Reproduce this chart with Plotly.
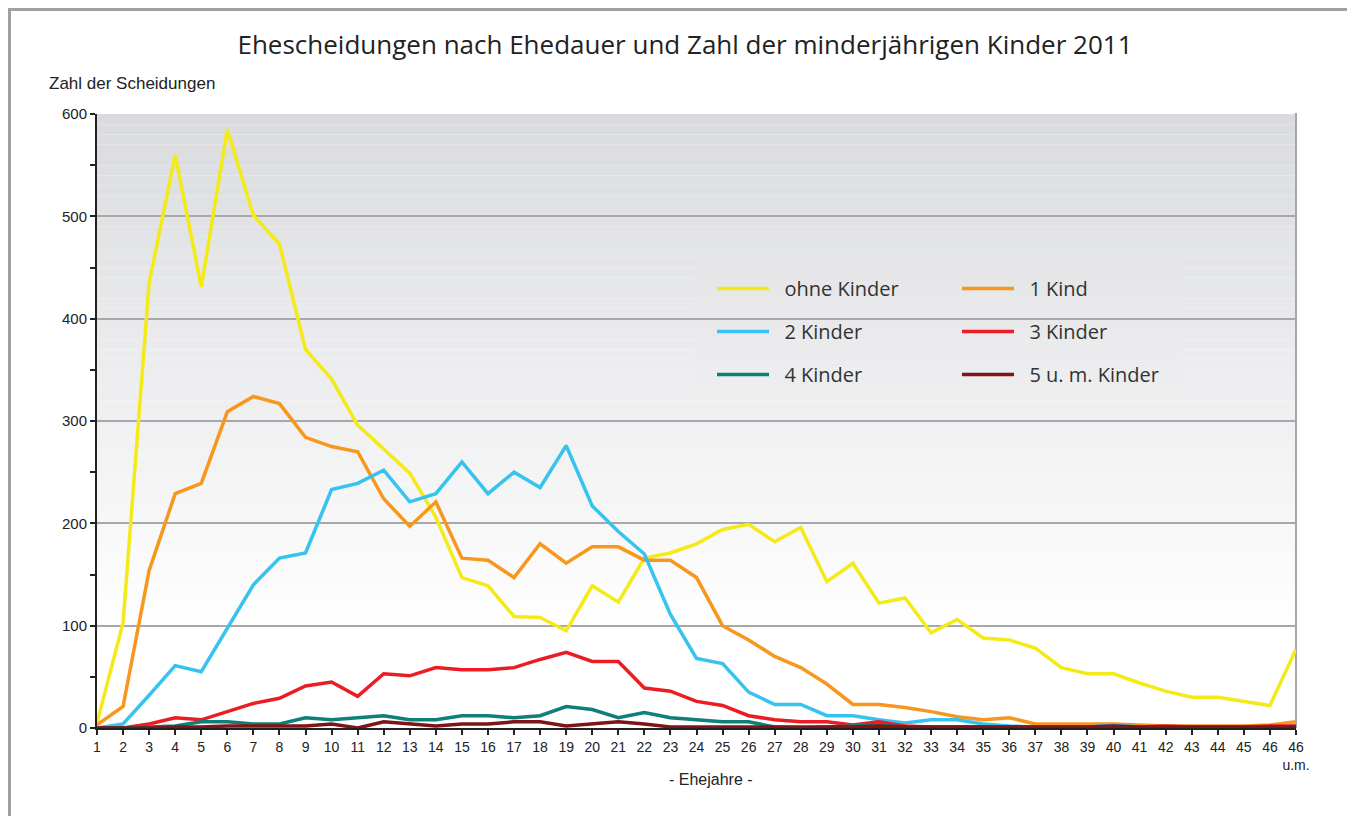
import plotly.graph_objects as go

tick_labels = ["1", "2", "3", "4", "5", "6", "7", "8", "9", "10", "11", "12", "13", "14", "15",
               "16", "17", "18", "19", "20", "21", "22", "23", "24", "25", "26", "27", "28", "29",
               "30", "31", "32", "33", "34", "35", "36", "37", "38", "39", "40", "41", "42", "43",
               "44", "45", "46", "46<br>u.m."]
x_pos = list(range(1, len(tick_labels) + 1))

ohne_kinder = [5, 103, 435, 560, 431, 585, 501, 473, 370, 341, 296, 273, 249, 206, 147, 139, 109, 108,
               95, 139, 123, 166, 171, 180, 194, 199, 182, 196, 143, 161, 122, 127, 93, 106, 88, 86,
               78, 59, 53, 53, 44, 36, 30, 30, 26, 22, 77]
kind_1 = [3, 21, 154, 229, 239, 309, 324, 317, 284, 275, 270, 224, 197, 221, 166, 164, 147, 180,
          161, 177, 177, 164, 164, 147, 100, 86, 70, 59, 43, 23, 23, 20, 16, 11, 8, 10,
          4, 4, 4, 4, 3, 2, 2, 2, 2, 3, 6]
kinder_2 = [0, 4, 32, 61, 55, 97, 140, 166, 171, 233, 239, 252, 221, 229, 260, 229, 250, 235,
            276, 217, 192, 170, 111, 68, 63, 35, 23, 23, 12, 12, 8, 5, 8, 8, 4, 2,
            1, 1, 1, 3, 1, 1, 1, 0, 0, 0, 2]
kinder_3 = [0, 0, 4, 10, 8, 16, 24, 29, 41, 45, 31, 53, 51, 59, 57, 57, 59, 67, 74, 65, 65, 39, 36, 26,
            22, 12, 8, 6, 6, 3, 6, 2, 1, 1, 1, 1, 1, 1, 1, 1, 1, 2, 1, 1, 1, 2, 2]
kinder_4 = [0, 0, 1, 2, 6, 6, 4, 4, 10, 8, 10, 12, 8, 8, 12, 12, 10, 12, 21, 18, 10, 15, 10, 8,
            6, 6, 1, 0, 1, 2, 3, 1, 1, 1, 1, 0, 0, 0, 0, 1, 0, 0, 0, 0, 0, 0, 0]
kinder_5 = [0, 0, 0, 1, 1, 2, 2, 2, 2, 4, 0, 6, 4, 2, 4, 4, 6, 6, 2, 4, 6, 4, 1, 1,
            1, 1, 1, 1, 1, 1, 2, 1, 1, 1, 1, 1, 1, 1, 1, 2, 1, 1, 1, 1, 1, 1, 1]

series = [
    ("ohne Kinder", ohne_kinder, "#f4ea17", "legend"),
    ("1 Kind", kind_1, "#f7971e", "legend2"),
    ("2 Kinder", kinder_2, "#36c3ef", "legend"),
    ("3 Kinder", kinder_3, "#ec1c24", "legend2"),
    ("4 Kinder", kinder_4, "#0e7f79", "legend"),
    ("5 u. m. Kinder", kinder_5, "#7e1416", "legend2"),
]

# page body has an 8px margin, so all reference pixel positions are shifted by OFF
OFF = 8
W, H = 1355 - OFF, 816 - OFF
PX_L, PX_R, PX_T, PX_B = 97, 1296, 114, 728          # plot area in reference pixels
L, T = PX_L - OFF, PX_T - OFF
R, B = W - (PX_R - OFF), H - (PX_B - OFF)
pw = PX_R - PX_L
ph = PX_B - PX_T


def px_x(p):
    return (p - PX_L) / pw


def px_y(p):
    return (PX_B - p) / ph


fig = go.Figure()
for name, vals, col, lg in series:
    fig.add_trace(go.Scatter(
        x=x_pos, y=vals, mode="lines", name="\u00a0\u00a0" + name,
        line=dict(color=col, width=3.5),
        legend=lg, legendgroup=name, showlegend=True,
        hoverinfo="x+y+name",
    ))

top = (218, 219, 222)
bot = (255, 255, 255)


def grad_color(frac_from_top):
    g = min(1.0, max(0.0, frac_from_top / 0.85))
    c = tuple(int(round(top[j] + (bot[j] - top[j]) * g)) for j in range(3))
    return "rgb(%d,%d,%d)" % c


shapes = []
n = 60
for k in range(n):
    y1 = 1 - k / n
    y0 = 1 - (k + 1) / n
    shapes.append(dict(type="rect", xref="x domain", yref="y domain", x0=0, x1=1, y0=y0, y1=y1,
                       fillcolor=grad_color((k + 0.5) / n), line=dict(width=0), layer="below"))

# legend backdrop (gradient-matched) hiding the 400 gridline
lg_top, lg_bot = 262, 395
nb = 14
for k in range(nb):
    p0 = lg_top + (lg_bot - lg_top) * k / nb
    p1 = lg_top + (lg_bot - lg_top) * (k + 1) / nb
    frac = ((p0 + p1) / 2 - PX_T) / ph
    shapes.append(dict(type="rect", xref="paper", yref="paper",
                       x0=px_x(695), x1=px_x(1183), y0=px_y(p1), y1=px_y(p0),
                       fillcolor=grad_color(frac), line=dict(width=0), layer="between"))

# right border of plot area
shapes.append(dict(type="line", xref="paper", yref="paper", x0=1, x1=1, y0=0, y1=px_y(PX_T - 1),
                   line=dict(color="#a6a6a8", width=2), layer="between"))
# outer frame
shapes.append(dict(type="rect", xref="paper", yref="paper",
                   x0=px_x(9.5), x1=px_x(1420), y0=px_y(880), y1=px_y(9.5),
                   line=dict(color="#a0a0a0", width=3), fillcolor="rgba(0,0,0,0)", layer="above"))

annotations = [
    dict(text="Zahl der Scheidungen", xref="paper", yref="paper", x=px_x(47), y=px_y(84),
         xanchor="left", yanchor="middle", showarrow=False,
         font=dict(family="Liberation Sans, Arial", size=17, color="#222222")),
    dict(text="- Ehejahre -", xref="paper", yref="paper", x=px_x(711), y=px_y(779),
         xanchor="center", yanchor="middle", showarrow=False,
         font=dict(family="Liberation Sans, Arial", size=16, color="#222222")),
]

fig.update_layout(
    width=W, height=H,
    margin=dict(l=L, r=R, t=T, b=B, autoexpand=False),
    paper_bgcolor="white",
    plot_bgcolor="rgba(0,0,0,0)",
    title=dict(text="Ehescheidungen nach Ehedauer und Zahl der minderjährigen Kinder 2011",
               x=(685 - OFF) / W, xanchor="center", y=1 - (45 - OFF) / H, yanchor="middle",
               font=dict(family="Open Sans, Noto Sans", size=26, color="#222222")),
    xaxis=dict(range=[1, len(x_pos)], tickmode="array", tickvals=x_pos, ticktext=tick_labels,
               showgrid=False, zeroline=False, showline=True, linecolor="#222222", linewidth=2,
               ticks="outside", ticklen=5, tickwidth=1.5, tickcolor="#222222",
               tickfont=dict(family="Liberation Sans, Arial", size=14, color="#222222"),
               tickangle=0, fixedrange=True),
    yaxis=dict(range=[0, 600], tickmode="linear", tick0=0, dtick=100,
               showgrid=True, gridcolor="#a8a8aa", gridwidth=2, zeroline=False,
               showline=True, linecolor="#222222", linewidth=2,
               ticks="outside", ticklen=5, tickwidth=1.5, tickcolor="#222222",
               minor=dict(dtick=50, ticks="outside", ticklen=5, tickwidth=1.5, tickcolor="#222222",
                          showgrid=False),
               tickfont=dict(family="Liberation Sans, Arial", size=15, color="#222222"),
               fixedrange=True),
    legend=dict(x=px_x(712), y=px_y(269), xanchor="left", yanchor="top",
                bgcolor="rgba(0,0,0,0)", itemwidth=52, traceorder="grouped", tracegroupgap=14,
                font=dict(family="Open Sans, Noto Sans", size=20, color="#333333")),
    legend2=dict(x=px_x(957), y=px_y(269), xanchor="left", yanchor="top",
                 bgcolor="rgba(0,0,0,0)", itemwidth=52, traceorder="grouped", tracegroupgap=14,
                 font=dict(family="Open Sans, Noto Sans", size=20, color="#333333")),
    shapes=shapes,
    annotations=annotations,
    showlegend=True,
)

fig.write_html("out.html")
